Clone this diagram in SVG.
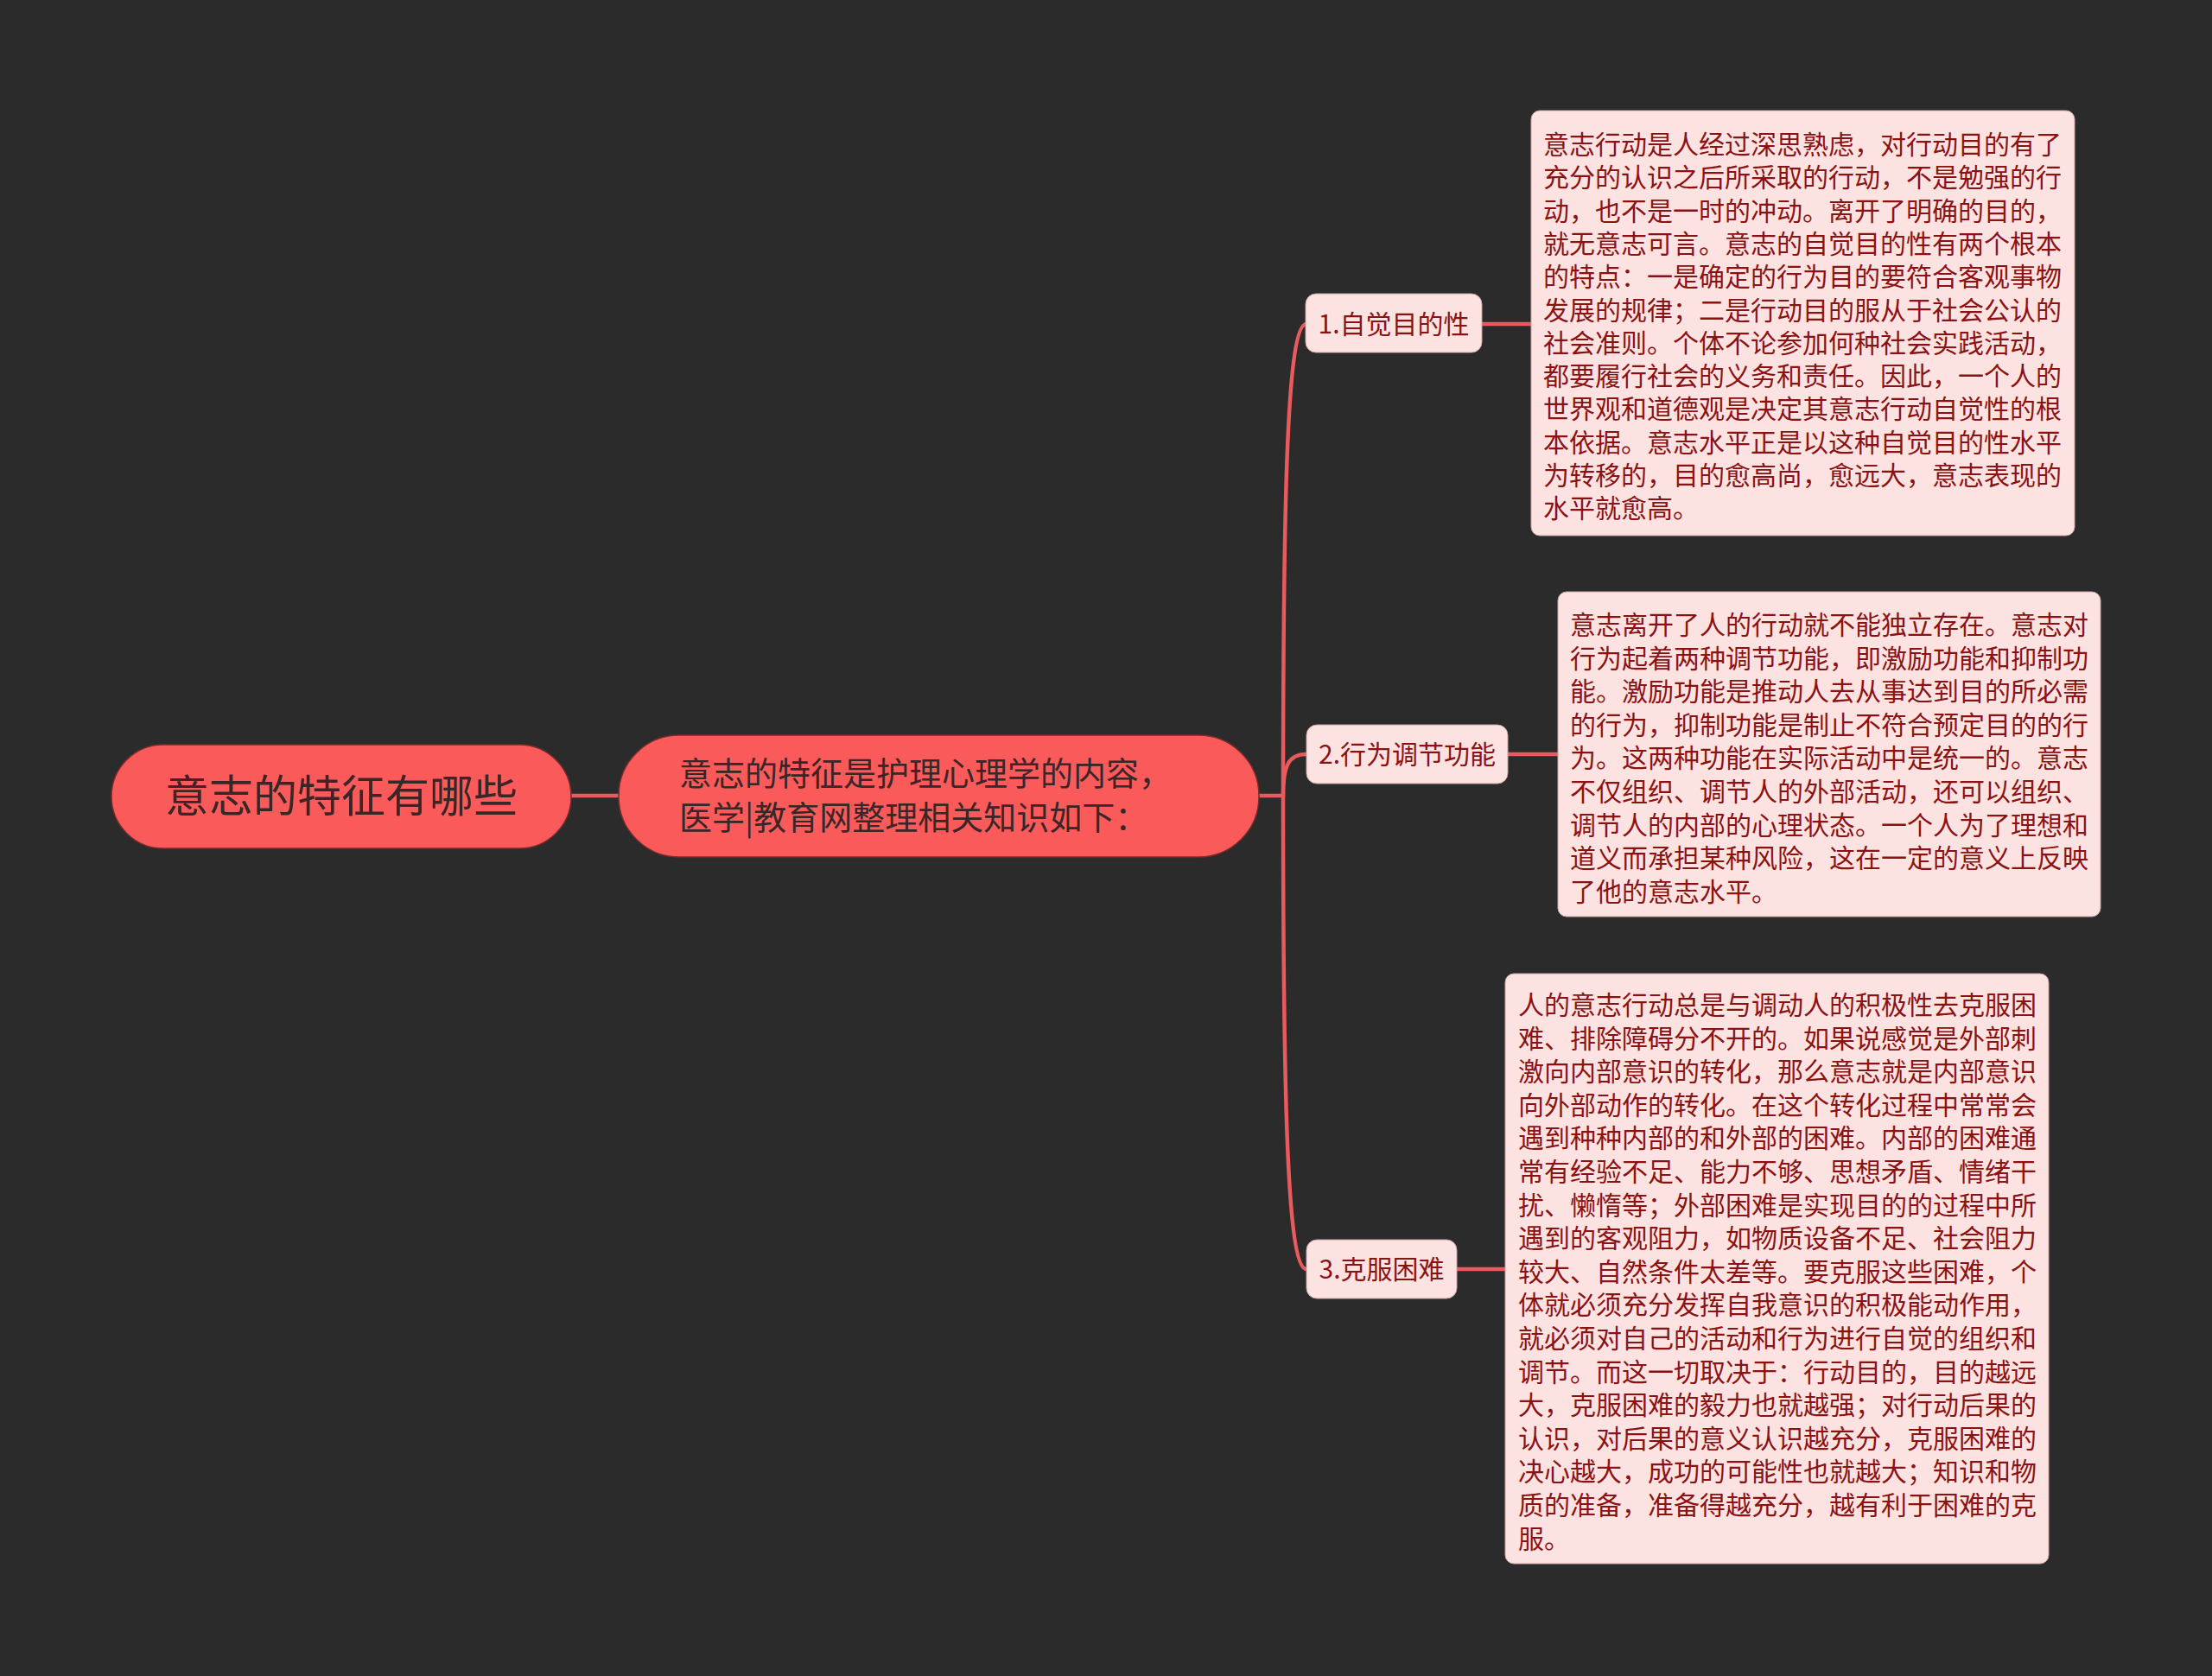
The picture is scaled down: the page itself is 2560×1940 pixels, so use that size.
<svg xmlns="http://www.w3.org/2000/svg" width="2560" height="1940" viewBox="0 0 2560 1940">
<style>
.bg{fill:#2b2b2b}
.main{fill:#fa5a5a;stroke:#7a2c2c;stroke-width:1.5}
.sub{fill:#fde2e2;stroke:#c9a3a3;stroke-width:1}
.conn{fill:none;stroke:#e85a5e;stroke-width:4.5;stroke-linecap:round}
.t{font-family:"Noto Sans CJK SC","Noto Sans",sans-serif}
.dark{fill:#3a2626}
.red{fill:#8b1212}
</style>
<rect class="bg" x="0" y="0" width="2560" height="1940"/>
<g id="connectors">
<path class="conn" d="M661,921 L716,921"/>
<path class="conn" d="M1457,921 L1485,921"/>
<path class="conn" d="M1485,921 C1485,560 1490,375 1512,375"/>
<path class="conn" d="M1485,921 C1485,885 1492,873 1512,873"/>
<path class="conn" d="M1485,921 C1485,1282 1490,1469 1512,1469"/>
<path class="conn" d="M1715,375 L1772,375"/>
<path class="conn" d="M1745,873 L1803,873"/>
<path class="conn" d="M1686,1469 L1742,1469"/>
</g>
<g id="root">
<rect class="main" x="129" y="862" width="532" height="120" rx="60"/>
<text class="t dark" x="395" y="940" font-size="51" text-anchor="middle">意志的特征有哪些</text>
</g>
<g id="center">
<rect class="main" x="716" y="851" width="741" height="141" rx="70"/>
<text class="t dark" font-size="38"><tspan x="786" y="909">意志的特征是护理心理学的内容，</tspan><tspan x="786" y="960">医学|教育网整理相关知识如下：</tspan></text>
</g>
<g id="n1">
<rect class="sub" x="1511" y="340" width="204" height="68" rx="12"/>
<text class="t red" x="1613" y="386" font-size="30" text-anchor="middle">1.自觉目的性</text>
</g>
<g id="n2">
<rect class="sub" x="1512" y="839" width="233" height="68" rx="12"/>
<text class="t red" x="1628.5" y="884" font-size="30" text-anchor="middle">2.行为调节功能</text>
</g>
<g id="n3">
<rect class="sub" x="1512" y="1435" width="174" height="68" rx="12"/>
<text class="t red" x="1599" y="1480" font-size="30" text-anchor="middle">3.克服困难</text>
</g>
<g id="d1">
<rect class="sub" x="1772" y="128" width="629" height="492" rx="10"/>
<text class="t red" font-size="30">
<tspan x="1786" y="178">意志行动是人经过深思熟虑，对行动目的有了</tspan>
<tspan x="1786" y="216.3">充分的认识之后所采取的行动，不是勉强的行</tspan>
<tspan x="1786" y="254.6">动，也不是一时的冲动。离开了明确的目的，</tspan>
<tspan x="1786" y="292.9">就无意志可言。意志的自觉目的性有两个根本</tspan>
<tspan x="1786" y="331.2">的特点：一是确定的行为目的要符合客观事物</tspan>
<tspan x="1786" y="369.5">发展的规律；二是行动目的服从于社会公认的</tspan>
<tspan x="1786" y="407.8">社会准则。个体不论参加何种社会实践活动，</tspan>
<tspan x="1786" y="446.1">都要履行社会的义务和责任。因此，一个人的</tspan>
<tspan x="1786" y="484.4">世界观和道德观是决定其意志行动自觉性的根</tspan>
<tspan x="1786" y="522.7">本依据。意志水平正是以这种自觉目的性水平</tspan>
<tspan x="1786" y="561">为转移的，目的愈高尚，愈远大，意志表现的</tspan>
<tspan x="1786" y="599.3">水平就愈高。</tspan>
</text>
</g>
<g id="d2">
<rect class="sub" x="1803" y="685" width="628" height="376" rx="10"/>
<text class="t red" font-size="30">
<tspan x="1817" y="734">意志离开了人的行动就不能独立存在。意志对</tspan>
<tspan x="1817" y="772.6">行为起着两种调节功能，即激励功能和抑制功</tspan>
<tspan x="1817" y="811.2">能。激励功能是推动人去从事达到目的所必需</tspan>
<tspan x="1817" y="849.8">的行为，抑制功能是制止不符合预定目的的行</tspan>
<tspan x="1817" y="888.4">为。这两种功能在实际活动中是统一的。意志</tspan>
<tspan x="1817" y="927">不仅组织、调节人的外部活动，还可以组织、</tspan>
<tspan x="1817" y="965.6">调节人的内部的心理状态。一个人为了理想和</tspan>
<tspan x="1817" y="1004.2">道义而承担某种风险，这在一定的意义上反映</tspan>
<tspan x="1817" y="1042.8">了他的意志水平。</tspan>
</text>
</g>
<g id="d3">
<rect class="sub" x="1742" y="1127" width="629" height="683" rx="10"/>
<text class="t red" font-size="30">
<tspan x="1757" y="1174">人的意志行动总是与调动人的积极性去克服困</tspan>
<tspan x="1757" y="1212.6">难、排除障碍分不开的。如果说感觉是外部刺</tspan>
<tspan x="1757" y="1251.2">激向内部意识的转化，那么意志就是内部意识</tspan>
<tspan x="1757" y="1289.8">向外部动作的转化。在这个转化过程中常常会</tspan>
<tspan x="1757" y="1328.4">遇到种种内部的和外部的困难。内部的困难通</tspan>
<tspan x="1757" y="1367">常有经验不足、能力不够、思想矛盾、情绪干</tspan>
<tspan x="1757" y="1405.6">扰、懒惰等；外部困难是实现目的的过程中所</tspan>
<tspan x="1757" y="1444.2">遇到的客观阻力，如物质设备不足、社会阻力</tspan>
<tspan x="1757" y="1482.8">较大、自然条件太差等。要克服这些困难，个</tspan>
<tspan x="1757" y="1521.4">体就必须充分发挥自我意识的积极能动作用，</tspan>
<tspan x="1757" y="1560">就必须对自己的活动和行为进行自觉的组织和</tspan>
<tspan x="1757" y="1598.6">调节。而这一切取决于：行动目的，目的越远</tspan>
<tspan x="1757" y="1637.2">大，克服困难的毅力也就越强；对行动后果的</tspan>
<tspan x="1757" y="1675.8">认识，对后果的意义认识越充分，克服困难的</tspan>
<tspan x="1757" y="1714.4">决心越大，成功的可能性也就越大；知识和物</tspan>
<tspan x="1757" y="1753">质的准备，准备得越充分，越有利于困难的克</tspan>
<tspan x="1757" y="1791.6">服。</tspan>
</text>
</g>
</svg>
